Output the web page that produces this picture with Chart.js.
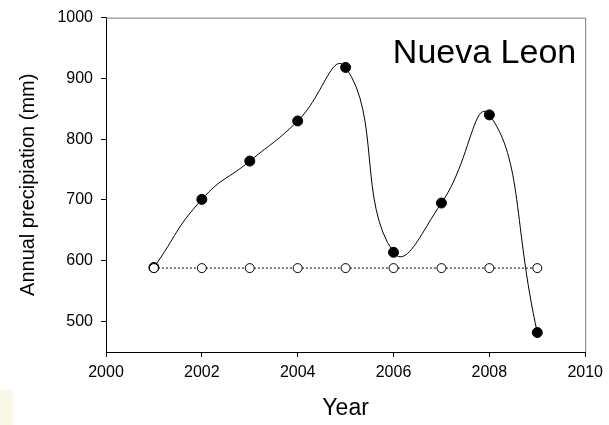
<!DOCTYPE html>
<html>
<head>
<meta charset="utf-8">
<script src="https://cdn.jsdelivr.net/npm/chart.js@4.4.0/dist/chart.umd.min.js"></script>
<style>
  body { margin: 0; background: #fff; }
  #wrap { position: relative; width: 609px; height: 425px; }
  #note { position: absolute; left: 0; top: 390px; width: 13px; height: 35px; background: #faf8e6; }
</style>
</head>
<body>
<div id="wrap">
  <canvas id="lineChart" width="609" height="425"></canvas>
  <div id="note"></div>
</div>
<script>
// data
const years = [2001, 2002, 2003, 2004, 2005, 2006, 2007, 2008, 2009];
const precip = [589, 701, 764, 830, 918, 614, 695, 840, 482];
const meanPrecip = [588, 588, 588, 588, 588, 588, 588, 588, 588];
const xTicks = [2000, 2002, 2004, 2006, 2008, 2010];
const yTicks = [500, 600, 700, 800, 900, 1000];
const stateName = 'Nueva Leon';

const font = 'Liberation Sans, Arial, sans-serif';

// top/right frame and the state name inside the plot
const framePlugin = {
    id: 'frame',
    beforeDatasetsDraw(chart) {
        const {ctx, chartArea: a} = chart;
        ctx.save();
        ctx.strokeStyle = '#7a7a7a';
        ctx.lineWidth = 1;
        ctx.beginPath();
        ctx.moveTo(a.left, a.top + 0.5);
        ctx.lineTo(a.right + 0.5, a.top + 0.5);
        ctx.lineTo(a.right + 0.5, a.bottom);
        ctx.stroke();
        ctx.fillStyle = '#000';
        ctx.font = '34px ' + font;
        ctx.textAlign = 'right';
        ctx.textBaseline = 'alphabetic';
        ctx.fillText(stateName, a.right - 9, a.top + 45);
        ctx.restore();
    }
};

document.addEventListener("DOMContentLoaded", () => {
    new Chart(document.querySelector('#lineChart'), {
        type: 'line',
        data: {
            datasets: [{
                label: 'mean',
                data: years.map((y, i) => ({x: y, y: meanPrecip[i]})),
                borderColor: '#000',
                borderWidth: 1,
                borderDash: [2, 2],
                pointRadius: 4.5,
                pointBackgroundColor: '#fff',
                pointBorderColor: '#000',
                pointBorderWidth: 1,
                tension: 0
            }, {
                label: 'annual',
                data: years.map((y, i) => ({x: y, y: precip[i]})),
                borderColor: '#000',
                borderWidth: 1,
                pointRadius: 5,
                pointBackgroundColor: '#000',
                pointBorderColor: '#000',
                tension: 0.5
            }]
        },
        options: {
            responsive: false,
            animation: false,
            layout: { padding: { top: 16, right: 22, left: 0, bottom: 0 } },
            plugins: { legend: { display: false }, tooltip: { enabled: false } },
            scales: {
                x: {
                    type: 'linear',
                    min: 2000,
                    max: 2010,
                    afterBuildTicks: s => { s.ticks = xTicks.map(v => ({value: v})); },
                    afterFit: s => { s.height = 73; },
                    grid: { drawOnChartArea: false, tickLength: 5, color: '#000' },
                    border: { color: '#000', width: 1 },
                    ticks: { color: '#000', padding: 6, maxRotation: 0, font: { family: font, size: 16 },
                             callback: v => String(v) },
                    title: { display: true, text: 'Year', color: '#000',
                             font: { family: font, size: 23 }, padding: { top: 0, bottom: 3 } }
                },
                y: {
                    min: 450,
                    max: 1000,
                    afterBuildTicks: s => { s.ticks = yTicks.map(v => ({value: v})); },
                    afterFit: s => { s.width = 106; },
                    grid: { drawOnChartArea: false, tickLength: 5, color: '#000' },
                    border: { color: '#000', width: 1 },
                    ticks: { color: '#000', padding: 8, font: { family: font, size: 16 },
                             callback: v => String(v) },
                    title: { display: true, text: 'Annual precipiation (mm)', color: '#000',
                             font: { family: font, size: 20 }, padding: { top: 16, bottom: 0 } }
                }
            }
        },
        plugins: [framePlugin]
    });
});
</script>
</body>
</html>
